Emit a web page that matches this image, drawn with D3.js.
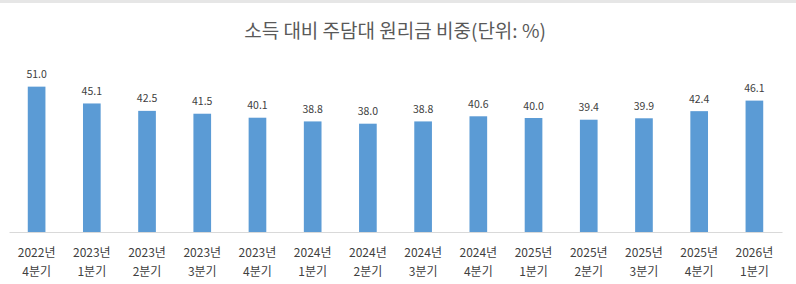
<!DOCTYPE html>
<html>
<head>
<meta charset="utf-8">
<script src="https://cdn.jsdelivr.net/npm/d3@7"></script>
<style>
  body { margin: 0; background: #fff; }
  text { font-family: "Noto Sans CJK KR", "Noto Sans", sans-serif; }
</style>
</head>
<body>
<div id="chart"></div>
<script>
// 소득 대비 주담대 원리금 비중 (단위: %)
const years = ['2022년', '2023년', '2023년', '2023년', '2023년', '2024년', '2024년', '2024년', '2024년',
               '2025년', '2025년', '2025년', '2025년', '2026년'];
const quarters = ['4분기', '1분기', '2분기', '3분기', '4분기', '1분기', '2분기', '3분기', '4분기',
                  '1분기', '2분기', '3분기', '4분기', '1분기'];
const ratios = [51.0, 45.1, 42.5, 41.5, 40.1, 38.8, 38.0, 38.8, 40.6, 40.0, 39.4, 39.9, 42.4, 46.1];
const titleText = '소득 대비 주담대 원리금 비중(단위: %)';

const width = 796, height = 284;
const margin = {top: 61, right: 14, bottom: 52, left: 9};

const data = ratios.map((v, i) => ({key: i, year: years[i], quarter: quarters[i], value: v}));

const svg = d3.select('#chart').append('svg')
    .attr('width', width)
    .attr('height', height);

// spreadsheet header strip at the very top
svg.append('rect')
    .attr('x', 0).attr('y', 0)
    .attr('width', width).attr('height', 3)
    .attr('fill', '#e6e6e6');

const x = d3.scaleBand()
    .domain(data.map(d => d.key))
    .range([margin.left, width - margin.right])
    .paddingInner(0.68)
    .paddingOuter(0.34);

const y = d3.scaleLinear()
    .domain([0, 60])
    .range([height - margin.bottom, margin.top]);

// title
svg.append('text')
    .attr('x', 395)
    .attr('y', 38)
    .attr('text-anchor', 'middle')
    .attr('font-size', 19)
    .attr('fill', '#595959')
    .text(titleText);

// bars
svg.selectAll('.bar')
    .data(data)
  .join('rect')
    .attr('class', 'bar')
    .attr('x', d => x(d.key))
    .attr('y', d => y(d.value))
    .attr('width', x.bandwidth())
    .attr('height', d => y(0) - y(d.value))
    .attr('fill', '#5b9bd5');

// value labels
svg.selectAll('.value-label')
    .data(data)
  .join('text')
    .attr('class', 'value-label')
    .attr('x', d => x(d.key) + x.bandwidth() / 2)
    .attr('y', d => y(d.value) - 8.5)
    .attr('text-anchor', 'middle')
    .attr('font-size', 10.5)
    .attr('fill', '#404040')
    .text(d => d.value.toFixed(1));

// x axis
const xAxis = svg.append('g')
    .attr('transform', `translate(0,${y(0)})`)
    .call(d3.axisBottom(x).tickSize(0).tickFormat(''));
xAxis.select('.domain').attr('stroke', '#d9d9d9');

const tick = xAxis.selectAll('.tick');
tick.select('text').remove();
tick.append('text')
    .attr('y', 25)
    .attr('text-anchor', 'middle')
    .attr('font-size', 12)
    .attr('fill', '#404040')
    .text(k => data[k].year);
tick.append('text')
    .attr('y', 44)
    .attr('text-anchor', 'middle')
    .attr('font-size', 12)
    .attr('fill', '#404040')
    .text(k => data[k].quarter);
</script>
</body>
</html>
